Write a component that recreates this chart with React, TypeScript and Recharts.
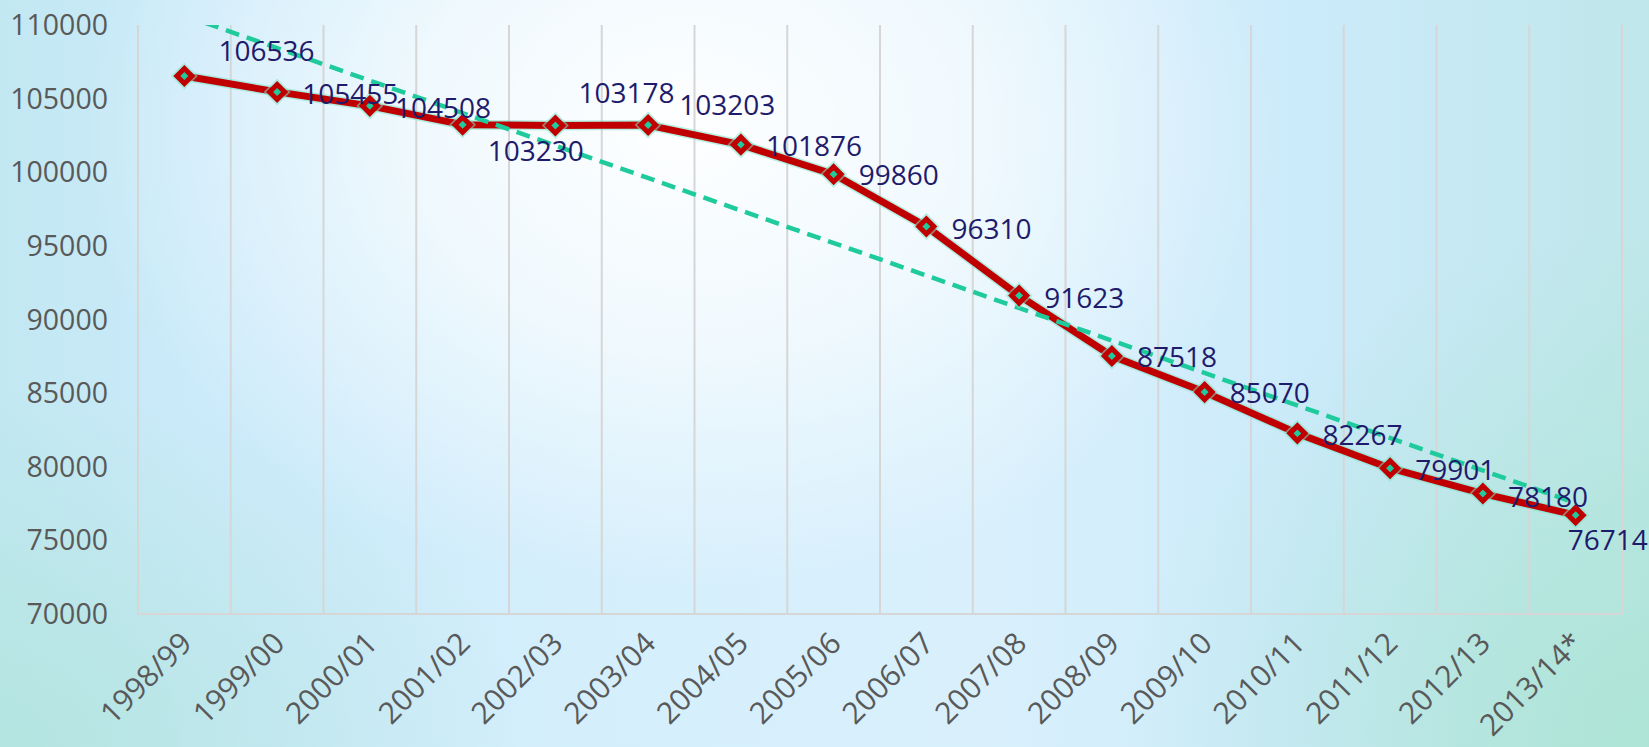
import React from 'react';
import {
  ComposedChart,
  Line,
  XAxis,
  YAxis,
  ReferenceLine,
} from 'recharts';

const years = [
  '1998/99', '1999/00', '2000/01', '2001/02', '2002/03', '2003/04', '2004/05', '2005/06',
  '2006/07', '2007/08', '2008/09', '2009/10', '2010/11', '2011/12', '2012/13', '2013/14*',
];

const pupils = [
  106536, 105455, 104508, 103230, 103178, 103203, 101876, 99860,
  96310, 91623, 87518, 85070, 82267, 79901, 78180, 76714,
];

// linear trend, value at first and last category
const trendEnds = [110640, 77540];

const yTicks = [70000, 75000, 80000, 85000, 90000, 95000, 100000, 105000, 110000];

// manual nudges of the data labels, as in the source
const labelNudge: [number, number][] = [
  [9, -26], [0, 1], [0, 1], [0, 25], [-2, -33], [6, -21], [0, 0], [0, 0],
  [0, 1], [0, 1], [0, 0], [0, 0], [0, 1], [0, 1], [0, 2], [-33, 24],
];

const data = years.map((year, i) => ({
  idx: i,
  year,
  value: pupils[i],
  trend: i === 0 ? trendEnds[0] : i === years.length - 1 ? trendEnds[1] : null,
}));

const FONT = '"Open Sans", "Liberation Sans", sans-serif';
const RED = '#c00000';
const TEAL = '#1fcb9c';
const NAVY = '#1f1b6b';
const GREY_TEXT = '#595959';
const GRID = '#d6d6d6';

const Diamond = (props: any) => {
  const { cx, cy } = props;
  if (cx == null || cy == null) return null;
  const r = 7.5;
  const d = `M${cx},${cy - r} L${cx + r},${cy} L${cx},${cy + r} L${cx - r},${cy} Z`;
  return (
    <g>
      <path d={d} fill="none" stroke="#7fe3cb" strokeWidth={8.5} strokeOpacity={0.55} />
      <path d={d} fill={TEAL} stroke={RED} strokeWidth={5} strokeLinejoin="miter" />
    </g>
  );
};

const ValueLabel = (props: any) => {
  const { x, y, value, index } = props;
  const [dx, dy] = labelNudge[index] || [0, 0];
  return (
    <text
      x={x + 25 + dx}
      y={y + dy}
      dominantBaseline="central"
      fontFamily={FONT}
      fontSize={28}
      fill={NAVY}
    >
      {value}
    </text>
  );
};

const YearTick = (props: any) => {
  const { x, y, payload } = props;
  const tx = x + 1;
  const ty = y + 15;
  return (
    <text
      x={tx}
      y={ty}
      transform={`rotate(-45, ${tx}, ${ty})`}
      textAnchor="end"
      dominantBaseline="central"
      fontFamily={FONT}
      fontSize={30}
      fill={GREY_TEXT}
    >
      {years[payload.value]}
    </text>
  );
};

const App: React.FC = () => {
  const boundaries = years.map((_, i) => i - 0.5).concat([years.length - 0.5]);

  return (
    <div
      style={{
        position: 'fixed',
        left: 0,
        top: 0,
        width: 1649,
        height: 747,
        background: [
          'radial-gradient(ellipse 600px 460px at 680px 130px, rgba(255,255,255,0.97) 0%, rgba(255,255,255,0.65) 45%, rgba(255,255,255,0) 100%)',
          'radial-gradient(ellipse 520px 360px at 0px 747px, rgba(178,228,222,0.9) 0%, rgba(178,228,222,0) 100%)',
          'radial-gradient(ellipse 520px 520px at 1649px 747px, rgba(172,228,212,0.95) 0%, rgba(172,228,212,0) 100%)',
          'linear-gradient(to right, #c2e8f2 0%, #cbeafa 12%, #d6effc 40%, #d9f0fc 60%, #cbeafa 80%, #bfe7ea 100%)',
        ].join(', '),
      }}
    >
      <ComposedChart
        width={1649}
        height={747}
        data={data}
        margin={{ top: 25, right: 27, bottom: 0, left: 0 }}
      >
        <XAxis
          type="number"
          dataKey="idx"
          domain={[-0.5, years.length - 0.5]}
          ticks={years.map((_, i) => i)}
          interval={0}
          height={133}
          axisLine={{ stroke: GRID, strokeWidth: 2 }}
          tickLine={false}
          tick={<YearTick />}
        />
        <YAxis
          type="number"
          domain={[70000, 110000]}
          ticks={yTicks}
          allowDataOverflow
          width={138}
          axisLine={false}
          tickLine={false}
          tickSize={0}
          tickMargin={30}
          tick={{ fill: GREY_TEXT, fontSize: 28.5, fontFamily: FONT }}
        />
        {boundaries.map((b) => (
          <ReferenceLine key={b} x={b} stroke={GRID} strokeWidth={2} ifOverflow="visible" />
        ))}
        <Line
          dataKey="value"
          stroke="#7fe3cb"
          strokeOpacity={0.55}
          strokeWidth={10}
          dot={false}
          activeDot={false}
          isAnimationActive={false}
        />
        <Line
          dataKey="value"
          stroke={RED}
          strokeWidth={7}
          strokeLinejoin="round"
          dot={<Diamond />}
          activeDot={false}
          isAnimationActive={false}
        />
        <Line
          dataKey="trend"
          stroke={TEAL}
          strokeWidth={4.5}
          strokeDasharray="14 8"
          dot={false}
          activeDot={false}
          connectNulls
          isAnimationActive={false}
        />
        <Line
          dataKey="value"
          stroke="none"
          dot={false}
          activeDot={false}
          label={<ValueLabel />}
          isAnimationActive={false}
        />
      </ComposedChart>
    </div>
  );
};

export default App;
